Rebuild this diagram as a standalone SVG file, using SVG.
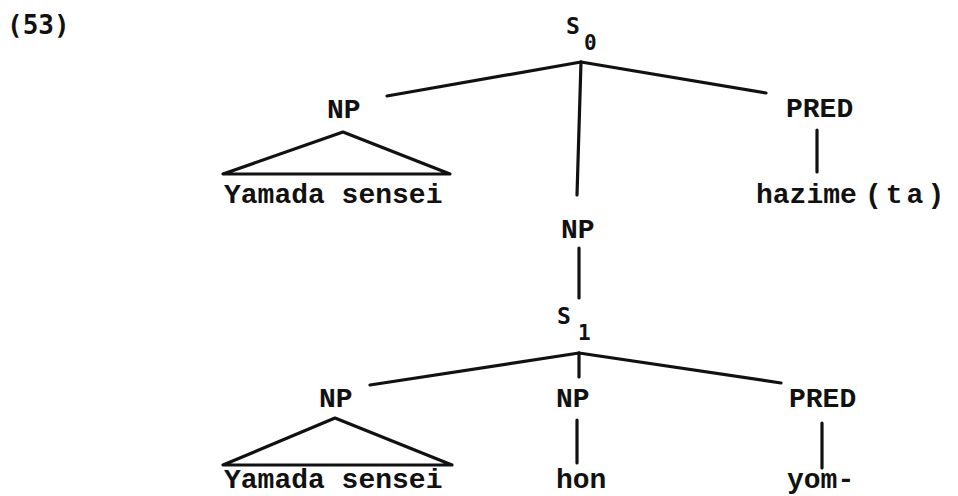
<svg xmlns="http://www.w3.org/2000/svg" width="958" height="496" viewBox="0 0 958 496">
<style>
.t{font-family:"Liberation Mono","Courier New",monospace;font-size:28px;fill:#111;font-weight:bold}
.s{font-family:"DejaVu Sans Mono","Liberation Mono",monospace;fill:#111;font-weight:bold}
.e{stroke:#111;stroke-width:3.2;fill:none;stroke-linecap:round;stroke-linejoin:round}
</style>
<rect width="958" height="496" fill="#fff"/>
<g id="label53"><text class="s" x="7" y="34" font-size="26">(53)</text></g>
<g id="connectors">
<line class="e" x1="581" y1="62" x2="387" y2="96"/>
<line class="e" x1="581" y1="62" x2="766" y2="93"/>
<line class="e" x1="581" y1="62" x2="577" y2="195"/>
<polygon class="e" points="343,132 223,174 450,174"/>
<line class="e" x1="817" y1="130" x2="817" y2="172"/>
<line class="e" x1="579" y1="248" x2="579" y2="298"/>
<line class="e" x1="579" y1="353" x2="370" y2="385"/>
<line class="e" x1="579" y1="353" x2="781" y2="383"/>
<line class="e" x1="579" y1="353" x2="579" y2="377"/>
<polygon class="e" points="335,418 223,465 452,465"/>
<line class="e" x1="577" y1="420" x2="577" y2="463"/>
<line class="e" x1="822" y1="423" x2="822" y2="468"/>
</g>
<g id="S0"><text class="s" x="566" y="34" font-size="23">S</text><text class="s" x="584" y="50" font-size="21">0</text></g>
<g id="NP_top"><text class="t" x="327" y="118" font-size="22">NP</text></g>
<g id="PRED_top"><text class="t" x="786" y="117">PRED</text></g>
<g id="Yamada_top"><text class="t" x="224" y="203">Yamada sensei</text></g>
<g id="hazime"><text class="t" x="756" y="203">hazime</text></g>
<g id="ta"><text class="t" x="865" y="203" letter-spacing="4">(ta)</text></g>
<g id="NP_mid"><text class="t" x="561" y="238" font-size="22">NP</text></g>
<g id="S1"><text class="s" x="557" y="324" font-size="23">S</text><text class="s" x="578" y="340" font-size="21">1</text></g>
<g id="NP_bl"><text class="t" x="319" y="407">NP</text></g>
<g id="NP_bm"><text class="t" x="556" y="407">NP</text></g>
<g id="PRED_b"><text class="t" x="789" y="407">PRED</text></g>
<g id="Yamada_b"><text class="t" x="224" y="488">Yamada sensei</text></g>
<g id="hon"><text class="t" x="556" y="488">hon</text></g>
<g id="yom"><text class="t" x="787" y="488">yom-</text></g>
</svg>
